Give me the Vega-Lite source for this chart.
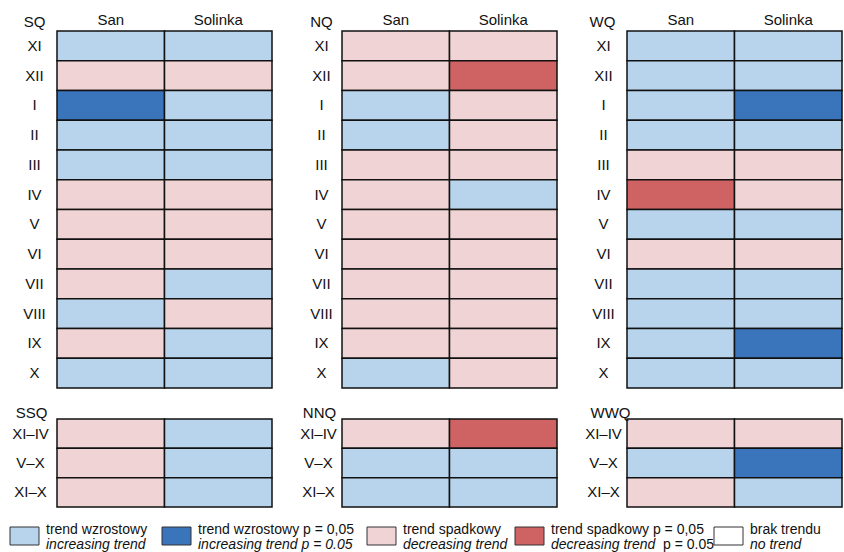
{
  "$schema": "https://vega.github.io/schema/vega-lite/v6.json",
  "padding": {"left": 8, "top": 12, "right": 0, "bottom": 0},
  "background": "white",
  "bounds": "full",
  "spacing": 15,
  "config": {
    "view": {"stroke": null},
    "font": "Liberation Sans",
    "axis": {
      "labelFont": "Liberation Sans",
      "titleFont": "Liberation Sans",
      "labelFontSize": 15,
      "titleFontSize": 15,
      "labelColor": "#111",
      "titleColor": "#111",
      "titleFontWeight": "normal",
      "ticks": false,
      "tickSize": 0,
      "domain": false,
      "grid": false
    },
    "text": {"font": "Liberation Sans", "fontSize": 14, "color": "#111"}
  },
  "datasets": {
    "trends": [
      {"q": "SQ", "p": "XI", "r": "San", "t": "inc"}, {"q": "SQ", "p": "XI", "r": "Solinka", "t": "inc"},
      {"q": "SQ", "p": "XII", "r": "San", "t": "dec"}, {"q": "SQ", "p": "XII", "r": "Solinka", "t": "dec"},
      {"q": "SQ", "p": "I", "r": "San", "t": "incSig"}, {"q": "SQ", "p": "I", "r": "Solinka", "t": "inc"},
      {"q": "SQ", "p": "II", "r": "San", "t": "inc"}, {"q": "SQ", "p": "II", "r": "Solinka", "t": "inc"},
      {"q": "SQ", "p": "III", "r": "San", "t": "inc"}, {"q": "SQ", "p": "III", "r": "Solinka", "t": "inc"},
      {"q": "SQ", "p": "IV", "r": "San", "t": "dec"}, {"q": "SQ", "p": "IV", "r": "Solinka", "t": "dec"},
      {"q": "SQ", "p": "V", "r": "San", "t": "dec"}, {"q": "SQ", "p": "V", "r": "Solinka", "t": "dec"},
      {"q": "SQ", "p": "VI", "r": "San", "t": "dec"}, {"q": "SQ", "p": "VI", "r": "Solinka", "t": "dec"},
      {"q": "SQ", "p": "VII", "r": "San", "t": "dec"}, {"q": "SQ", "p": "VII", "r": "Solinka", "t": "inc"},
      {"q": "SQ", "p": "VIII", "r": "San", "t": "inc"}, {"q": "SQ", "p": "VIII", "r": "Solinka", "t": "dec"},
      {"q": "SQ", "p": "IX", "r": "San", "t": "dec"}, {"q": "SQ", "p": "IX", "r": "Solinka", "t": "inc"},
      {"q": "SQ", "p": "X", "r": "San", "t": "inc"}, {"q": "SQ", "p": "X", "r": "Solinka", "t": "inc"},
      {"q": "NQ", "p": "XI", "r": "San", "t": "dec"}, {"q": "NQ", "p": "XI", "r": "Solinka", "t": "dec"},
      {"q": "NQ", "p": "XII", "r": "San", "t": "dec"}, {"q": "NQ", "p": "XII", "r": "Solinka", "t": "decSig"},
      {"q": "NQ", "p": "I", "r": "San", "t": "inc"}, {"q": "NQ", "p": "I", "r": "Solinka", "t": "dec"},
      {"q": "NQ", "p": "II", "r": "San", "t": "inc"}, {"q": "NQ", "p": "II", "r": "Solinka", "t": "dec"},
      {"q": "NQ", "p": "III", "r": "San", "t": "dec"}, {"q": "NQ", "p": "III", "r": "Solinka", "t": "dec"},
      {"q": "NQ", "p": "IV", "r": "San", "t": "dec"}, {"q": "NQ", "p": "IV", "r": "Solinka", "t": "inc"},
      {"q": "NQ", "p": "V", "r": "San", "t": "dec"}, {"q": "NQ", "p": "V", "r": "Solinka", "t": "dec"},
      {"q": "NQ", "p": "VI", "r": "San", "t": "dec"}, {"q": "NQ", "p": "VI", "r": "Solinka", "t": "dec"},
      {"q": "NQ", "p": "VII", "r": "San", "t": "dec"}, {"q": "NQ", "p": "VII", "r": "Solinka", "t": "dec"},
      {"q": "NQ", "p": "VIII", "r": "San", "t": "dec"}, {"q": "NQ", "p": "VIII", "r": "Solinka", "t": "dec"},
      {"q": "NQ", "p": "IX", "r": "San", "t": "dec"}, {"q": "NQ", "p": "IX", "r": "Solinka", "t": "dec"},
      {"q": "NQ", "p": "X", "r": "San", "t": "inc"}, {"q": "NQ", "p": "X", "r": "Solinka", "t": "dec"},
      {"q": "WQ", "p": "XI", "r": "San", "t": "inc"}, {"q": "WQ", "p": "XI", "r": "Solinka", "t": "inc"},
      {"q": "WQ", "p": "XII", "r": "San", "t": "inc"}, {"q": "WQ", "p": "XII", "r": "Solinka", "t": "inc"},
      {"q": "WQ", "p": "I", "r": "San", "t": "inc"}, {"q": "WQ", "p": "I", "r": "Solinka", "t": "incSig"},
      {"q": "WQ", "p": "II", "r": "San", "t": "inc"}, {"q": "WQ", "p": "II", "r": "Solinka", "t": "inc"},
      {"q": "WQ", "p": "III", "r": "San", "t": "dec"}, {"q": "WQ", "p": "III", "r": "Solinka", "t": "dec"},
      {"q": "WQ", "p": "IV", "r": "San", "t": "decSig"}, {"q": "WQ", "p": "IV", "r": "Solinka", "t": "dec"},
      {"q": "WQ", "p": "V", "r": "San", "t": "inc"}, {"q": "WQ", "p": "V", "r": "Solinka", "t": "inc"},
      {"q": "WQ", "p": "VI", "r": "San", "t": "dec"}, {"q": "WQ", "p": "VI", "r": "Solinka", "t": "dec"},
      {"q": "WQ", "p": "VII", "r": "San", "t": "inc"}, {"q": "WQ", "p": "VII", "r": "Solinka", "t": "inc"},
      {"q": "WQ", "p": "VIII", "r": "San", "t": "inc"}, {"q": "WQ", "p": "VIII", "r": "Solinka", "t": "inc"},
      {"q": "WQ", "p": "IX", "r": "San", "t": "inc"}, {"q": "WQ", "p": "IX", "r": "Solinka", "t": "incSig"},
      {"q": "WQ", "p": "X", "r": "San", "t": "inc"}, {"q": "WQ", "p": "X", "r": "Solinka", "t": "inc"},
      {"q": "SSQ", "p": "XI–IV", "r": "San", "t": "dec"}, {"q": "SSQ", "p": "XI–IV", "r": "Solinka", "t": "inc"},
      {"q": "SSQ", "p": "V–X", "r": "San", "t": "dec"}, {"q": "SSQ", "p": "V–X", "r": "Solinka", "t": "inc"},
      {"q": "SSQ", "p": "XI–X", "r": "San", "t": "dec"}, {"q": "SSQ", "p": "XI–X", "r": "Solinka", "t": "inc"},
      {"q": "NNQ", "p": "XI–IV", "r": "San", "t": "dec"}, {"q": "NNQ", "p": "XI–IV", "r": "Solinka", "t": "decSig"},
      {"q": "NNQ", "p": "V–X", "r": "San", "t": "inc"}, {"q": "NNQ", "p": "V–X", "r": "Solinka", "t": "inc"},
      {"q": "NNQ", "p": "XI–X", "r": "San", "t": "inc"}, {"q": "NNQ", "p": "XI–X", "r": "Solinka", "t": "inc"},
      {"q": "WWQ", "p": "XI–IV", "r": "San", "t": "dec"}, {"q": "WWQ", "p": "XI–IV", "r": "Solinka", "t": "dec"},
      {"q": "WWQ", "p": "V–X", "r": "San", "t": "inc"}, {"q": "WWQ", "p": "V–X", "r": "Solinka", "t": "incSig"},
      {"q": "WWQ", "p": "XI–X", "r": "San", "t": "dec"}, {"q": "WWQ", "p": "XI–X", "r": "Solinka", "t": "inc"}
    ],
    "legend": [
      {"slot": 0, "t": "inc", "l1": "trend wzrostowy", "l2": "increasing trend", "l3": ""},
      {"slot": 1, "t": "incSig", "l1": "trend wzrostowy p = 0,05", "l2": "increasing trend p  = 0.05", "l3": ""},
      {"slot": 2, "t": "dec", "l1": "trend spadkowy", "l2": "decreasing trend", "l3": ""},
      {"slot": 3, "t": "decSig", "l1": "trend spadkowy p = 0,05", "l2": "decreasing trend", "l3": "p = 0.05"},
      {"slot": 4, "t": "none", "l1": "brak trendu", "l2": "no trend", "l3": ""}
    ]
  },
  "vconcat": [
    {
      "columns": 3,
      "bounds": "flush",
      "spacing": {"row": 31, "column": 70},
      "concat": [
        {
          "data": {"name": "trends"}, "width": 215, "height": 357,
          "transform": [{"filter": "datum.q === 'SQ'"}],
          "mark": {"type": "rect", "stroke": "#111", "strokeWidth": 1.5},
          "encoding": {
            "x": {"field": "r", "type": "nominal", "scale": {"domain": ["San", "Solinka"], "paddingInner": 0, "paddingOuter": 0}, "axis": {"orient": "top", "title": null, "labelAngle": 0, "labelPadding": 4}},
            "y": {"field": "p", "type": "nominal", "scale": {"domain": ["XI", "XII", "I", "II", "III", "IV", "V", "VI", "VII", "VIII", "IX", "X"], "paddingInner": 0, "paddingOuter": 0}, "axis": {"title": "SQ", "titleAngle": 0, "titleX": -23, "titleY": -5, "titleAlign": "center", "titleBaseline": "alphabetic", "labelAlign": "center", "labelPadding": 23}},
            "color": {"field": "t", "type": "nominal", "scale": {"domain": ["inc", "incSig", "dec", "decSig", "none"], "range": ["#b8d4ed", "#3a74bb", "#f0d4d5", "#cf6363", "#ffffff"]}, "legend": null}
          }
        },
        {
          "data": {"name": "trends"}, "width": 215, "height": 357,
          "transform": [{"filter": "datum.q === 'NQ'"}],
          "mark": {"type": "rect", "stroke": "#111", "strokeWidth": 1.5},
          "encoding": {
            "x": {"field": "r", "type": "nominal", "scale": {"domain": ["San", "Solinka"], "paddingInner": 0, "paddingOuter": 0}, "axis": {"orient": "top", "title": null, "labelAngle": 0, "labelPadding": 4}},
            "y": {"field": "p", "type": "nominal", "scale": {"domain": ["XI", "XII", "I", "II", "III", "IV", "V", "VI", "VII", "VIII", "IX", "X"], "paddingInner": 0, "paddingOuter": 0}, "axis": {"title": "NQ", "titleAngle": 0, "titleX": -21, "titleY": -5, "titleAlign": "center", "titleBaseline": "alphabetic", "labelAlign": "center", "labelPadding": 21}},
            "color": {"field": "t", "type": "nominal", "scale": {"domain": ["inc", "incSig", "dec", "decSig", "none"], "range": ["#b8d4ed", "#3a74bb", "#f0d4d5", "#cf6363", "#ffffff"]}, "legend": null}
          }
        },
        {
          "data": {"name": "trends"}, "width": 215, "height": 357,
          "transform": [{"filter": "datum.q === 'WQ'"}],
          "mark": {"type": "rect", "stroke": "#111", "strokeWidth": 1.5},
          "encoding": {
            "x": {"field": "r", "type": "nominal", "scale": {"domain": ["San", "Solinka"], "paddingInner": 0, "paddingOuter": 0}, "axis": {"orient": "top", "title": null, "labelAngle": 0, "labelPadding": 4}},
            "y": {"field": "p", "type": "nominal", "scale": {"domain": ["XI", "XII", "I", "II", "III", "IV", "V", "VI", "VII", "VIII", "IX", "X"], "paddingInner": 0, "paddingOuter": 0}, "axis": {"title": "WQ", "titleAngle": 0, "titleX": -25, "titleY": -5, "titleAlign": "center", "titleBaseline": "alphabetic", "labelAlign": "center", "labelPadding": 24}},
            "color": {"field": "t", "type": "nominal", "scale": {"domain": ["inc", "incSig", "dec", "decSig", "none"], "range": ["#b8d4ed", "#3a74bb", "#f0d4d5", "#cf6363", "#ffffff"]}, "legend": null}
          }
        },
        {
          "data": {"name": "trends"}, "width": 215, "height": 88,
          "transform": [{"filter": "datum.q === 'SSQ'"}],
          "mark": {"type": "rect", "stroke": "#111", "strokeWidth": 1.5},
          "encoding": {
            "x": {"field": "r", "type": "nominal", "scale": {"domain": ["San", "Solinka"], "paddingInner": 0, "paddingOuter": 0}, "axis": null},
            "y": {"field": "p", "type": "nominal", "scale": {"domain": ["XI–IV", "V–X", "XI–X"], "paddingInner": 0, "paddingOuter": 0}, "axis": {"title": "SSQ", "titleAngle": 0, "titleX": -26, "titleY": -2, "titleAlign": "center", "titleBaseline": "alphabetic", "labelAlign": "center", "labelPadding": 27}},
            "color": {"field": "t", "type": "nominal", "scale": {"domain": ["inc", "incSig", "dec", "decSig", "none"], "range": ["#b8d4ed", "#3a74bb", "#f0d4d5", "#cf6363", "#ffffff"]}, "legend": null}
          }
        },
        {
          "data": {"name": "trends"}, "width": 215, "height": 88,
          "transform": [{"filter": "datum.q === 'NNQ'"}],
          "mark": {"type": "rect", "stroke": "#111", "strokeWidth": 1.5},
          "encoding": {
            "x": {"field": "r", "type": "nominal", "scale": {"domain": ["San", "Solinka"], "paddingInner": 0, "paddingOuter": 0}, "axis": null},
            "y": {"field": "p", "type": "nominal", "scale": {"domain": ["XI–IV", "V–X", "XI–X"], "paddingInner": 0, "paddingOuter": 0}, "axis": {"title": "NNQ", "titleAngle": 0, "titleX": -23, "titleY": -2, "titleAlign": "center", "titleBaseline": "alphabetic", "labelAlign": "center", "labelPadding": 24}},
            "color": {"field": "t", "type": "nominal", "scale": {"domain": ["inc", "incSig", "dec", "decSig", "none"], "range": ["#b8d4ed", "#3a74bb", "#f0d4d5", "#cf6363", "#ffffff"]}, "legend": null}
          }
        },
        {
          "data": {"name": "trends"}, "width": 215, "height": 88,
          "transform": [{"filter": "datum.q === 'WWQ'"}],
          "mark": {"type": "rect", "stroke": "#111", "strokeWidth": 1.5},
          "encoding": {
            "x": {"field": "r", "type": "nominal", "scale": {"domain": ["San", "Solinka"], "paddingInner": 0, "paddingOuter": 0}, "axis": null},
            "y": {"field": "p", "type": "nominal", "scale": {"domain": ["XI–IV", "V–X", "XI–X"], "paddingInner": 0, "paddingOuter": 0}, "axis": {"title": "WWQ", "titleAngle": 0, "titleX": -17, "titleY": -2, "titleAlign": "center", "titleBaseline": "alphabetic", "labelAlign": "center", "labelPadding": 24}},
            "color": {"field": "t", "type": "nominal", "scale": {"domain": ["inc", "incSig", "dec", "decSig", "none"], "range": ["#b8d4ed", "#3a74bb", "#f0d4d5", "#cf6363", "#ffffff"]}, "legend": null}
          }
        }
      ]
    },
    {
      "data": {"name": "legend"},
      "width": 785,
      "height": 18,
      "encoding": {
        "x": {"field": "slot", "type": "quantitative", "scale": {"domain": [0, 1, 2, 3, 4], "range": [-47, 105, 310, 458, 657], "zero": false, "nice": false}, "axis": null}
      },
      "layer": [
        {
          "mark": {"type": "point", "shape": "M-1.45,-0.9H1.45V0.9H-1.45Z", "size": 400, "filled": true, "opacity": 1, "stroke": "#333", "strokeWidth": 1, "xOffset": 14.5},
          "encoding": {
            "color": {"field": "t", "type": "nominal", "scale": {"domain": ["inc", "incSig", "dec", "decSig", "none"], "range": ["#b8d4ed", "#3a74bb", "#f0d4d5", "#cf6363", "#ffffff"]}, "legend": null}
          }
        },
        {
          "mark": {"type": "text", "align": "left", "baseline": "alphabetic", "dx": 36, "dy": -2},
          "encoding": {"text": {"field": "l1"}}
        },
        {
          "mark": {"type": "text", "align": "left", "baseline": "alphabetic", "dx": 36, "dy": 13, "fontStyle": "italic"},
          "encoding": {"text": {"field": "l2"}}
        },
        {
          "mark": {"type": "text", "align": "left", "baseline": "alphabetic", "dx": 148, "dy": 13},
          "encoding": {"text": {"field": "l3"}}
        }
      ]
    }
  ]
}
